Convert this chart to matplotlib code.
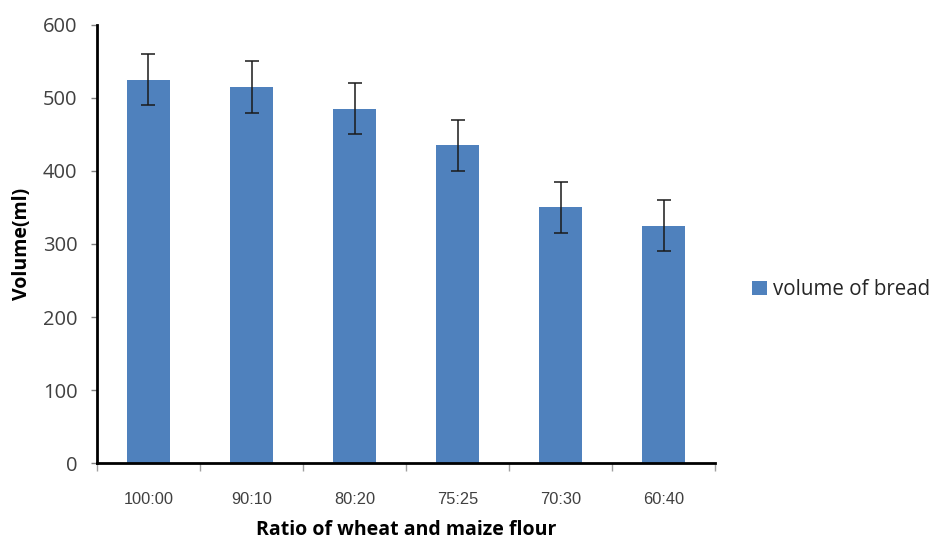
import matplotlib
matplotlib.use("Agg")
import matplotlib.pyplot as plt
import numpy as np

categories = ["100:00", "90:10", "80:20", "75:25", "70:30", "60:40"]
volumes = [525, 515, 485, 435, 350, 325]
errors = [35, 35, 35, 35, 35, 35]
series_name = "volume of bread"

fig = plt.figure(figsize=(9.38, 5.43), dpi=100)
ax = fig.add_axes([0.1034, 0.1473, 0.6589, 0.8067])

x = np.arange(len(categories))
ax.bar(x, volumes, width=0.42, color="#4F81BD", label=series_name, zorder=2)
ax.errorbar(x, volumes, yerr=errors, fmt="none", ecolor="#1a1a1a", elinewidth=1.1,
            capsize=5, capthick=1.1, zorder=3)

ax.set_xlim(-0.5, len(categories) - 0.5)
ax.set_ylim(0, 600)
ax.set_yticks(range(0, 601, 100))
ax.tick_params(axis="y", labelsize=14.5, length=4, width=1, direction="out",
               color="#808080", labelcolor="#404040", pad=10)
ax.set_yticklabels([str(v) for v in range(0, 601, 100)], family="Open Sans")

ax.set_xticks(x)
ax.set_xticklabels(categories, family="Liberation Sans")
ax.tick_params(axis="x", which="major", length=0, labelsize=11.8, labelcolor="#404040", pad=21)
ax.set_xticks(np.arange(-0.5, len(categories), 1.0), minor=True)
ax.tick_params(axis="x", which="minor", length=6, width=1, color="#a0a0a0", direction="out")

for side in ["top", "right"]:
    ax.spines[side].set_visible(False)
ax.spines["left"].set_linewidth(2)
ax.spines["bottom"].set_linewidth(2)
ax.spines["left"].set_color("black")
ax.spines["bottom"].set_color("black")

ax.set_ylabel("Volume(ml)", fontsize=14, fontweight="bold", family="Open Sans", labelpad=8)
ax.set_xlabel("Ratio of wheat and maize flour", fontsize=14, fontweight="bold",
              family="Open Sans", labelpad=9)

leg = fig.legend(loc="center left", bbox_to_anchor=(0.802, 0.467), frameon=False,
                 prop={"family": "Open Sans", "size": 14.8}, handlelength=0.7,
                 handleheight=0.7, handletextpad=0.3, borderpad=0.0, borderaxespad=0.0)
for t in leg.get_texts():
    t.set_color("#262626")

fig.savefig("out.png", dpi=100, facecolor="white")
